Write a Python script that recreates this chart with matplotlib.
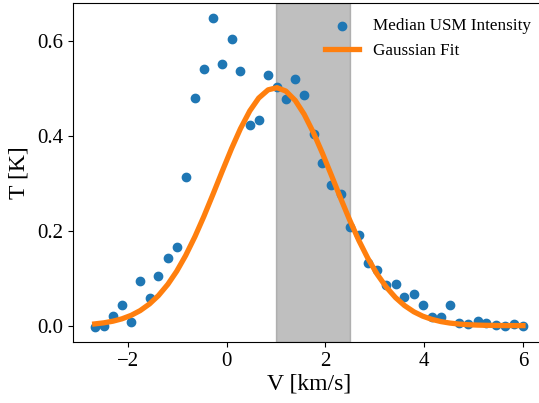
import numpy as np
import matplotlib
matplotlib.use("Agg")
import matplotlib.pyplot as plt

plt.rcParams['font.family'] = ['Liberation Serif', 'DejaVu Serif']
plt.rcParams['mathtext.fontset'] = 'stix'

# velocity channels (km/s)
velocity = [-2.67, -2.49, -2.30, -2.12, -1.93, -1.75, -1.56, -1.38, -1.19, -1.01,
            -0.83, -0.64, -0.46, -0.27, -0.09, 0.10, 0.28, 0.47, 0.65, 0.84,
            1.02, 1.20, 1.39, 1.57, 1.76, 1.94, 2.12, 2.31, 2.49, 2.68,
            2.86, 3.05, 3.23, 3.42, 3.60, 3.79, 3.97, 4.15, 4.34, 4.52,
            4.71, 4.89, 5.08, 5.26, 5.45, 5.63, 5.82, 6.00]

# median USM intensity (K)
intensity = [-0.002, 0.000, 0.021, 0.044, 0.008, 0.095, 0.058, 0.105, 0.142, 0.166,
             0.314, 0.480, 0.542, 0.648, 0.552, 0.605, 0.538, 0.424, 0.434, 0.528,
             0.504, 0.479, 0.521, 0.486, 0.404, 0.343, 0.297, 0.278, 0.207, 0.192,
             0.133, 0.117, 0.086, 0.088, 0.060, 0.067, 0.044, 0.019, 0.019, 0.044,
             0.005, 0.003, 0.009, 0.006, 0.001, 0.000, 0.003, 0.000]

# gaussian fit parameters: amplitude, centre, width
fit_amp = 0.502
fit_mu = 1.0
fit_sigma = 1.17

# shaded velocity window
v_lo, v_hi = 1.0, 2.5


def gaussian(v, a, mu, s):
    return a * np.exp(-(v - mu) ** 2 / (2 * s ** 2))


v = np.array(velocity)
fit = gaussian(v, fit_amp, fit_mu, fit_sigma)

fig = plt.figure(figsize=(5.39, 4.03), dpi=100)
# axes run a little past the right edge of the image, as in the original crop
ax = fig.add_axes([73.3 / 539, 61 / 403, 471.1 / 539, 339 / 403])

ax.axvspan(v_lo, v_hi, color='gray', alpha=0.5)
ax.scatter(v, intensity, color='#1f77b4', s=36, label='Median USM Intensity')
ax.plot(v, fit, color='#ff7f0e', linewidth=3.8, label='Gaussian Fit')

ax.set_xlabel('V [km/s]', fontsize=17, labelpad=2)
ax.set_ylabel('T [K]', fontsize=17, labelpad=6)
ax.tick_params(labelsize=15)
ax.set_xticks([-2, 0, 2, 4, 6])
ax.set_yticks([0.0, 0.2, 0.4, 0.6])

leg = ax.legend(loc='upper right', frameon=False, fontsize=12.3, scatterpoints=1,
                bbox_to_anchor=(1.004, 1.0))

fig.savefig('out.png', dpi=100)
